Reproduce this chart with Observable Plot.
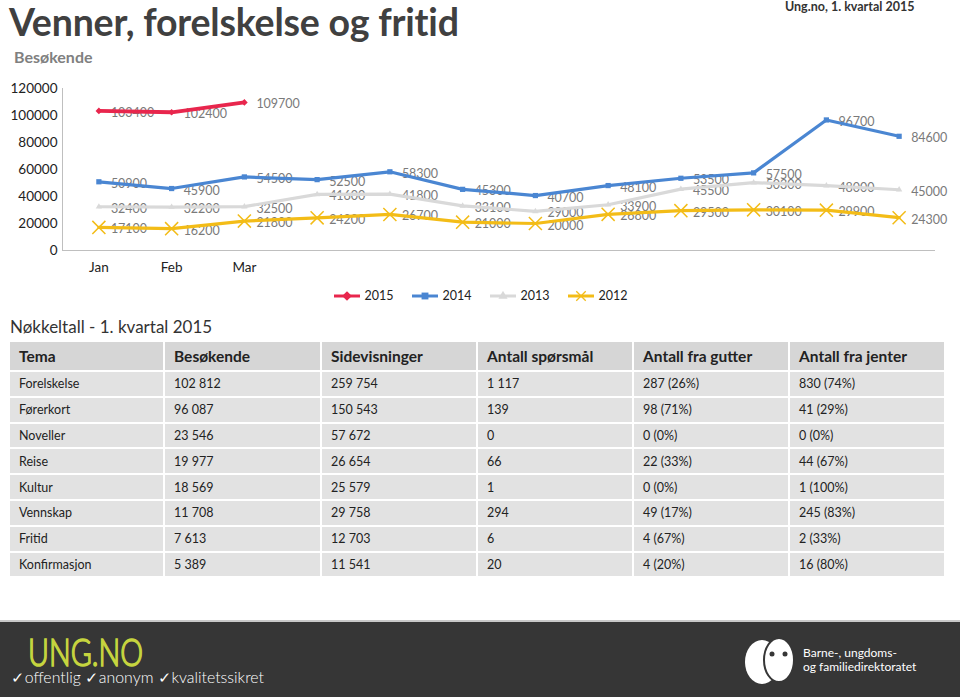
<!DOCTYPE html>
<html>
<head>
<meta charset="utf-8">
<script src="https://cdn.jsdelivr.net/npm/d3@7"></script>
<script src="https://cdn.jsdelivr.net/npm/@observablehq/plot@0.6"></script>
<style>
  html, body { margin: 0; padding: 0; background: #fff; }
  #page { position: relative; width: 960px; height: 697px; overflow: hidden; font-family: Lato, "Open Sans", sans-serif; }
  .abs { position: absolute; white-space: nowrap; }
  #title { left: 9px; top: 2px; line-height: 40px; font-size: 37.5px; font-weight: 700; color: #404040; letter-spacing: -0.2px; }
  #subtitle { left: 14px; top: 47px; font-size: 16px; font-weight: 700; color: #808080; }
  #source { left: 785px; top: 1px; line-height: 12px; font-size: 12.5px; font-weight: 700; color: #333; }
  #chart { left: 0; top: 80px; }
  #legend { left: 0; top: 288px; width: 960px; display: flex; justify-content: center; gap: 17px; font-size: 12.5px; color: #222; }
  #legend .item { display: flex; align-items: center; gap: 4px; }
  #kt { left: 10px; top: 316px; font-size: 17px; color: #333; }
  #tbl { left: 8px; top: 340px; border-collapse: separate; border-spacing: 2px; table-layout: fixed; }
  #tbl td, #tbl th { box-sizing: border-box; text-align: left; padding: 0 0 0 9px; border: none; }
  #tbl th { background: #d6d6d6; height: 28px; font-size: 15.5px; font-weight: 700; color: #222; }
  #tbl td { background: #e2e2e2; height: 23.8px; font-size: 12.5px; color: #222; }
  #footer { left: 0; top: 620px; width: 960px; height: 77px; background: #363636; border-top: 2px solid #c8c8c8; }
</style>
</head>
<body>
<div id="page">
  <div class="abs" id="title">Venner, forelskelse og fritid</div>
  <div class="abs" id="subtitle">Besøkende</div>
  <div class="abs" id="source">Ung.no, 1. kvartal 2015</div>
  <div class="abs" id="chart"></div>
  <div class="abs" id="legend"></div>
  <div class="abs" id="kt">Nøkkeltall - 1. kvartal 2015</div>
  <table class="abs" id="tbl"></table>
  <div class="abs" id="footer"></div>
</div>
<script>
// ---- data ----
const months = ["Jan","Feb","Mar","Apr","May","Jun","Jul","Aug","Sep","Oct","Nov","Dec"];
const monthTickLabels = ["Jan","Feb","Mar"];
const years = ["2015","2014","2013","2012"];
const v2015 = [103400, 102400, 109700];
const v2014 = [50900, 45900, 54500, 52500, 58300, 45300, 40700, 48100, 53500, 57500, 96700, 84600];
const v2013 = [32400, 32200, 32500, 41600, 41800, 33100, 29000, 33900, 45500, 50300, 48000, 45000];
const v2012 = [17100, 16200, 21800, 24200, 26700, 21000, 20000, 26800, 29500, 30100, 29900, 24300];
const yTicks = [0, 20000, 40000, 60000, 80000, 100000, 120000];

const tableHeader = ["Tema", "Besøkende", "Sidevisninger", "Antall spørsmål", "Antall fra gutter", "Antall fra jenter"];
const tema = ["Forelskelse", "Førerkort", "Noveller", "Reise", "Kultur", "Vennskap", "Fritid", "Konfirmasjon"];
const besokende = ["102 812", "96 087", "23 546", "19 977", "18 569", "11 708", "7 613", "5 389"];
const sidevisninger = ["259 754", "150 543", "57 672", "26 654", "25 579", "29 758", "12 703", "11 541"];
const sporsmal = ["1 117", "139", "0", "66", "1", "294", "6", "20"];
const gutter = ["287 (26%)", "98 (71%)", "0 (0%)", "22 (33%)", "0 (0%)", "49 (17%)", "4 (67%)", "4 (20%)"];
const jenter = ["830 (74%)", "41 (29%)", "0 (0%)", "44 (67%)", "1 (100%)", "245 (83%)", "2 (33%)", "16 (80%)"];

const colors = ["#E8264D", "#4A86D2", "#D9D9D9", "#F3BC17"];
const symbols = ["diamond2", "square2", "triangle2", "times"];

// ---- build rows ----
const series = [v2015, v2014, v2013, v2012];
const rows = [];
series.forEach((vals, k) => vals.forEach((v, i) => rows.push({year: years[k], i, month: months[i], value: v})));
const filledRows = rows.filter(d => d.year !== "2012");
const crossRows = rows.filter(d => d.year === "2012");

const chart = Plot.plot({
  width: 960,
  height: 205,
  marginLeft: 62,
  marginRight: 25,
  marginTop: 8,
  marginBottom: 35,
  style: {fontFamily: "Lato, sans-serif", overflow: "visible", background: "transparent"},
  x: {type: "linear", domain: [-0.5, 11.5], axis: null},
  y: {domain: [0, 120000], axis: null},
  color: {domain: years, range: colors},
  symbol: {domain: years, range: symbols},
  marks: [
    Plot.ruleX([-0.5], {y1: 0, y2: 120000, stroke: "#bfbfbf", strokeWidth: 1}),
    Plot.ruleY([0], {stroke: "#bfbfbf", strokeWidth: 1}),
    Plot.axisY({ticks: yTicks, tickSize: 0, tickPadding: 5, tickFormat: d => String(d), fontSize: 13.5, color: "#222", label: null}),
    Plot.axisX({ticks: [0, 1, 2], tickSize: 0, tickPadding: 12, tickFormat: i => monthTickLabels[i], fontSize: 13.5, color: "#222", label: null}),
    Plot.text(rows, {x: "i", y: "value", text: d => String(d.value), textAnchor: "start", dx: 12, dy: 2, fill: "#7a7a7a", fontSize: 12.5}),
    Plot.line(rows, {x: "i", y: "value", z: "year", stroke: "year", strokeWidth: d => d.year === "2015" ? 3.8 : 3.2, strokeLinejoin: "round", strokeLinecap: "round"}),
    Plot.dot(filledRows, {x: "i", y: "value", symbol: "year", fill: "year", stroke: "none", r: d => d.year === "2014" ? 8 : 6.5}),
    Plot.dot(crossRows, {x: "i", y: "value", symbol: "year", stroke: "year", fill: "none", strokeWidth: 1.5, r: 6})
  ]
});
document.getElementById("chart").appendChild(chart);

// ---- legend ----
const legend = d3.select("#legend");
const symMap = {diamond2: d3.symbolDiamond2, square2: d3.symbolSquare2, triangle2: d3.symbolTriangle2, times: d3.symbolTimes};
years.forEach((y, k) => {
  const item = legend.append("div").attr("class", "item");
  const svg = item.append("svg").attr("width", 28).attr("height", 14);
  svg.append("line").attr("x1", 1).attr("x2", 27).attr("y1", 7).attr("y2", 7).attr("stroke", colors[k]).attr("stroke-width", 3);
  const p = svg.append("path").attr("transform", "translate(14,7)").attr("d", d3.symbol(symMap[symbols[k]], 60)());
  if (symbols[k] === "times") p.attr("fill", "none").attr("stroke", colors[k]).attr("stroke-width", 1.3);
  else p.attr("fill", colors[k]);
  item.append("span").text(y);
});

// ---- table ----
const tbl = d3.select("#tbl");
const colW = [155, 157, 156, 156, 156, 156];
tbl.append("tr").selectAll("th").data(tableHeader).join("th").text(d => d).style("width", (d, i) => (colW[i] - 2) + "px");
tema.forEach((t, r) => {
  const cells = [t, besokende[r], sidevisninger[r], sporsmal[r], gutter[r], jenter[r]];
  tbl.append("tr").selectAll("td").data(cells).join("td").text(d => d);
});

// ---- footer ----
const f = d3.select("#footer").append("svg").attr("width", 960).attr("height", 77);
f.append("text").attr("x", 28).attr("y", 44).attr("font-family", "Lato, sans-serif").attr("font-size", 38)
  .attr("font-weight", 300).attr("fill", "#c6d53f").attr("stroke", "#c6d53f").attr("stroke-width", 1.6)
  .attr("textLength", 115).attr("lengthAdjust", "spacingAndGlyphs")
  .text("UNG.NO");
f.append("text").attr("x", 11).attr("y", 61).attr("fill", "#fff").attr("font-family", "Lato, sans-serif").attr("font-size", 15)
  .attr("font-weight", 300).attr("textLength", 253).attr("lengthAdjust", "spacingAndGlyphs")
  .text("\u2713offentlig \u2713anonym \u2713kvalitetssikret");
f.append("ellipse").attr("cx", 762).attr("cy", 40).attr("rx", 17).attr("ry", 22).attr("fill", "#fff");
f.append("ellipse").attr("cx", 779).attr("cy", 38).attr("rx", 15).attr("ry", 22).attr("fill", "#fff").attr("stroke", "#363636").attr("stroke-width", 2);
f.append("circle").attr("cx", 772).attr("cy", 32).attr("r", 2.5).attr("fill", "#363636");
f.append("circle").attr("cx", 785).attr("cy", 32).attr("r", 2.5).attr("fill", "#363636");
f.append("text").attr("x", 803).attr("y", 35).attr("fill", "#fff").attr("font-family", "Lato, sans-serif").attr("font-size", 12).text("Barne-, ungdoms-");
f.append("text").attr("x", 803).attr("y", 49).attr("fill", "#fff").attr("font-family", "Lato, sans-serif").attr("font-size", 12).text("og familiedirektoratet");
</script>
</body>
</html>
